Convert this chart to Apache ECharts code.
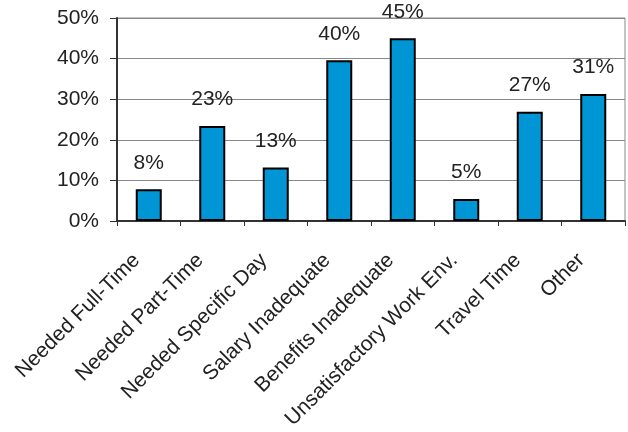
<!DOCTYPE html>
<html>
<head>
<meta charset="utf-8">
<script src="https://cdn.jsdelivr.net/npm/echarts@6/dist/echarts.min.js"></script>
<style>
  html, body { margin: 0; padding: 0; background: #fff; }
  #main { width: 628px; height: 432px; }
</style>
</head>
<body>
<div id="main"></div>
<script>
// chart data
const categories = ['Needed Full-Time', 'Needed Part-Time', 'Needed Specific Day', 'Salary Inadequate',
  'Benefits Inadequate', 'Unsatisfactory Work Env.', 'Travel Time', 'Other'];
const values = [7.8, 23.4, 13.2, 39.6, 45.0, 5.4, 26.9, 31.3];
const valueLabels = ['8%', '23%', '13%', '40%', '45%', '5%', '27%', '31%'];
const yTicks = [0, 10, 20, 30, 40, 50];

const myChart = echarts.init(document.getElementById('main'));
let option = {
  animation: false,
  grid: {
    left: 117,
    right: 3,
    top: 18,
    bottom: 211,
    show: true,
    borderColor: '#888',
    borderWidth: 1
  },
  xAxis: {
    type: 'category',
    data: categories,
    axisLine: { lineStyle: { color: '#333', width: 2 } },
    axisTick: { show: true, length: 5, lineStyle: { color: '#333' } },
    axisLabel: {
      rotate: 45,
      interval: 0,
      margin: 24,
      padding: [0, 17, 0, 0],
      color: '#222',
      fontSize: 21,
      fontFamily: 'Liberation Sans, Arial, sans-serif'
    }
  },
  yAxis: {
    type: 'value',
    min: yTicks[0],
    max: yTicks[yTicks.length - 1],
    interval: 10,
    axisLine: { show: true, lineStyle: { color: '#333', width: 2 } },
    axisTick: { show: true, length: 7, lineStyle: { color: '#333' } },
    splitLine: { lineStyle: { color: '#888', width: 1 } },
    axisLabel: {
      margin: 18,
      color: '#222',
      fontSize: 21,
      fontFamily: 'Liberation Sans, Arial, sans-serif',
      formatter: v => v + '%'
    }
  },
  series: [{
    type: 'bar',
    data: values,
    barWidth: 26,
    itemStyle: { color: '#0096d6', borderColor: '#000', borderWidth: 2 },
    label: {
      show: true,
      position: 'top',
      distance: 16,
      color: '#222',
      fontSize: 21,
      fontFamily: 'Liberation Sans, Arial, sans-serif',
      formatter: p => valueLabels[p.dataIndex]
    }
  }]
};
myChart.setOption(option);
</script>
</body>
</html>
